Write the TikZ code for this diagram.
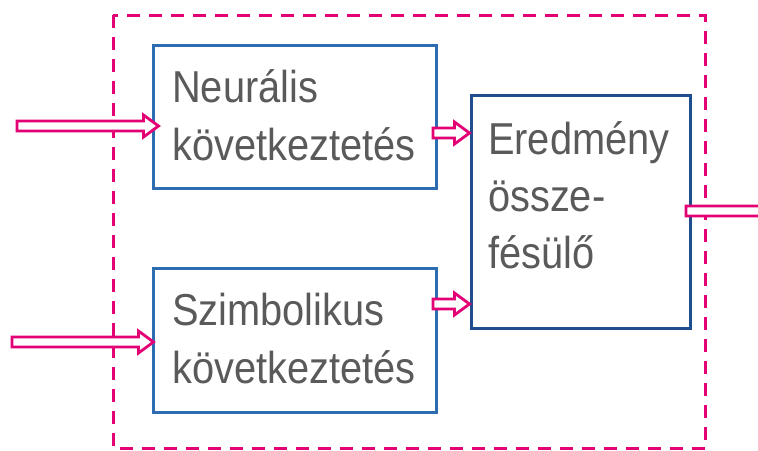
\documentclass[tikz,border=0pt]{standalone}
\usepackage{fontspec}
\setmainfont[FakeStretch=0.89]{Liberation Sans}
\usetikzlibrary{calc}
\definecolor{tmagenta}{HTML}{E20074}
\definecolor{boxblue}{HTML}{2B6CB2}
\definecolor{boxdark}{HTML}{1F4E8E}
\definecolor{txtgrey}{HTML}{5A5A5A}
\tikzset{
  procbox/.style={draw=boxblue, line width=3pt, rectangle, inner sep=0pt},
  boxtext/.style={anchor=base west, inner sep=0pt, align=left, text=txtgrey,
    font=\fontsize{44.7}{58}\selectfont},
  fatarrow/.style={draw=tmagenta, line width=2.8pt, fill=white, line join=miter},
  frame/.style={draw=tmagenta, line width=3pt, dash pattern=on 13pt off 9pt}
}
% hollow block arrow from the y-level of #1 to the x-position of #2 (+ #3)
\newcommand\blockarrow[3]{%
  \path[fatarrow] let \p1=(#1), \p2=(#2) in
    (\x1,\y1-5pt) -- (\x2+#3-15pt,\y1-5pt) -- (\x2+#3-15pt,\y1-11pt)
    -- (\x2+#3,\y1) -- (\x2+#3-15pt,\y1+11pt) -- (\x2+#3-15pt,\y1+5pt)
    -- (\x1,\y1+5pt) -- cycle;}
\begin{document}
\begin{tikzpicture}[x=1pt,y=-1pt]
  \clip (0,0) rectangle (758,450);
  \fill[white] (0,0) rectangle (758,450);
  % system boundary
  \draw[frame] (113,15) rectangle (705,448.5);
  % processing blocks
  \node[procbox, minimum width=283pt, minimum height=143pt] (neur) at (294.5,116.5) {};
  \node[procbox, minimum width=283pt, minimum height=144pt] (szimb) at (294.5,340) {};
  \node[procbox, draw=boxdark, minimum width=219pt, minimum height=233pt] (erd) at (580.5,211.5) {};
  % labels, anchored at the baseline of their last line
  \node[boxtext] (neurtxt) at (172,160) {Neurális\\következtetés};
  \node[boxtext] (szimbtxt) at (172,383) {Szimbolikus\\következtetés};
  \node[boxtext, font=\fontsize{44.7}{57}\selectfont] (erdtxt) at (488,268) {Eredmény\\össze-\\fésülő};
  % free ends of the connectors
  \coordinate (in1) at (17,126);
  \coordinate (in2) at (12,342);
  \coordinate (m1) at (433,133);
  \coordinate (m2) at (433,304);
  \coordinate (out) at (686,211);
  \coordinate (outend) at (800,211);
  % connectors
  \blockarrow{in1}{neur.west}{7pt}
  \blockarrow{in2}{szimb.west}{2pt}
  \blockarrow{m1}{erd.west}{0pt}
  \blockarrow{m2}{erd.west}{0pt}
  \blockarrow{out}{outend}{0pt}
\end{tikzpicture}
\end{document}
